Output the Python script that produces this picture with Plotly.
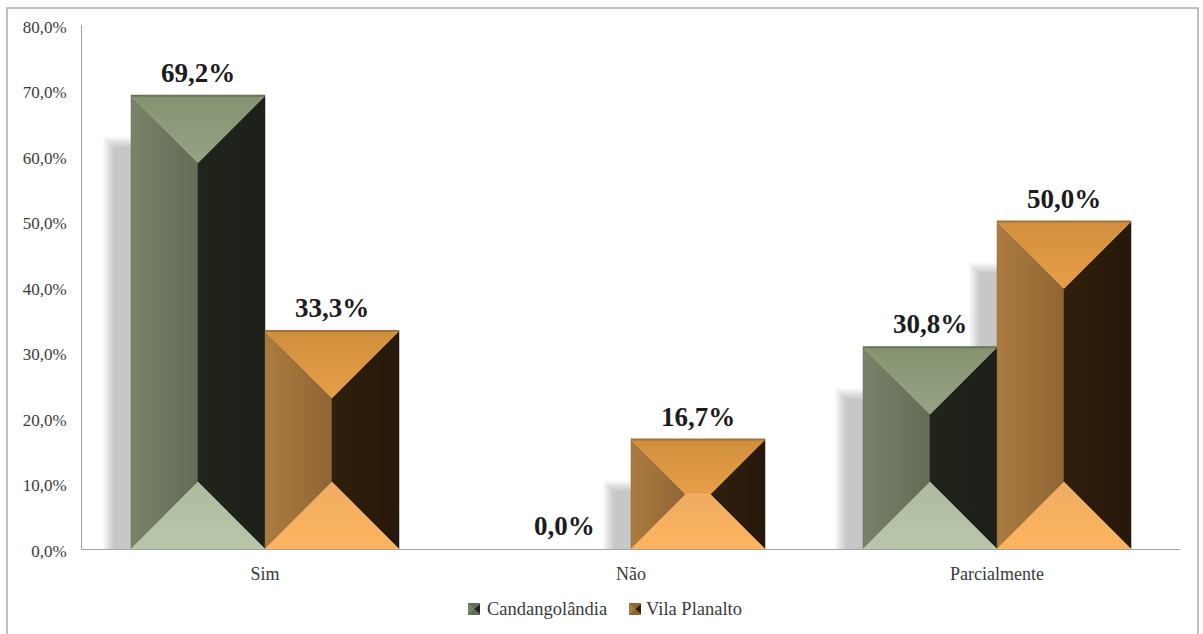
import plotly.graph_objects as go

# Chart data
categories = ["Sim", "Não", "Parcialmente"]
series_names = ["Candangolândia", "Vila Planalto"]
candangolandia = [69.2, 0.0, 30.8]
vila_planalto = [33.3, 16.7, 50.0]

# Pixel layout of the plot area
FIG_W, FIG_H = 1203, 634
M_L, M_R, M_T, M_B = 82, 23, 25, 85
PLOT_W = FIG_W - M_L - M_R
PLOT_H = FIG_H - M_T - M_B
X_PER_PX = 3.0 / PLOT_W
Y_PER_PX = 80.0 / PLOT_H
BAR_W = 134 * X_PER_PX
BEVEL_PX = 67

SERIF = "Liberation Serif"
TEXT_COLOR = "#3a3a3a"

palettes = {
    "Candangolândia": {
        "left": ["#7a8369", "#626c56"],
        "right": ["#20241b", "#1c2018"],
        "top": ["#869371", "#96a484"],
        "bottom": ["#adba9e", "#b9c6a9"],
        "edge": "#6a7358",
    },
    "Vila Planalto": {
        "left": ["#ab7c40", "#906534"],
        "right": ["#301f0c", "#26180a"],
        "top": ["#d08f3d", "#e89e47"],
        "bottom": ["#eeac62", "#fdb45f"],
        "edge": "#a27339",
    },
}


def face(xs, ys, colors, orient, start, stop):
    """One bevelled face of a bar, as a filled polygon with a linear gradient."""
    return go.Scatter(
        x=xs + xs[:1], y=ys + ys[:1], mode="lines", fill="toself",
        line=dict(width=0.5, color=colors[1]),
        fillgradient=dict(
            type=orient, start=start, stop=stop,
            colorscale=[[0, colors[0]], [1, colors[1]]],
        ),
        hoverinfo="skip", showlegend=False,
    )


def shadow_layers(left, value):
    """Soft grey shadow to the left of a bar, built from stacked translucent layers."""
    layers = []
    offset_x = 28 * X_PER_PX
    drop = 41 * Y_PER_PX
    steps = 10
    for k in range(steps):
        x0 = left - offset_x + k * 1.2 * X_PER_PX
        top = max(value - drop - k * 1.2 * Y_PER_PX, 0)
        layers.append(go.Scatter(
            x=[x0, left, left, x0, x0], y=[0, 0, top, top, 0],
            mode="lines", fill="toself", line=dict(width=0),
            fillcolor="rgba(40,40,40,0.026)",
            hoverinfo="skip", showlegend=False,
        ))
    return layers


def bar_faces(left, value, pal):
    """The four faces and the top edge of one bevelled bar."""
    right = left + BAR_W
    mid_by = min(BEVEL_PX * Y_PER_PX, value / 2)
    bx = mid_by / Y_PER_PX * X_PER_PX
    ax0, ax1 = left + bx, right - bx
    ay0, ay1 = mid_by, value - mid_by
    faces = [
        face([left, ax0, ax0, left], [0, ay0, ay1, value],
             pal["left"], "horizontal", left, ax0),
        face([right, ax1, ax1, right], [0, ay0, ay1, value],
             pal["right"], "horizontal", ax1, right),
        face([left, right, ax1, ax0], [value, value, ay1, ay1],
             pal["top"], "vertical", value, ay1),
        face([left, right, ax1, ax0], [0, 0, ay0, ay0],
             pal["bottom"], "vertical", ay0, 0),
    ]
    faces.append(go.Scatter(
        x=[left, right], y=[value, value], mode="lines",
        line=dict(width=2, color=pal["edge"]),
        hoverinfo="skip", showlegend=False,
    ))
    return faces


def pct(v):
    return f"{v:.1f}".replace(".", ",") + "%"


fig = go.Figure()

series = [candangolandia, vila_planalto]
lefts = [lambda i: i - BAR_W, lambda i: i]

# Shadows go first so that every bar sits on top of them
for name, values, left_of in zip(series_names, series, lefts):
    for i, v in enumerate(values):
        if v > 0:
            for tr in shadow_layers(left_of(i), v):
                fig.add_trace(tr)

for name, values, left_of in zip(series_names, series, lefts):
    for i, v in enumerate(values):
        if v > 0:
            for tr in bar_faces(left_of(i), v, palettes[name]):
                fig.add_trace(tr)


def px_x(p):
    return (p - M_L) / PLOT_W


def px_y(p):
    return 1 - (p - M_T) / PLOT_H


def poly(points, color):
    path = "M " + " L ".join(f"{px_x(x):.5f},{px_y(y):.5f}" for x, y in points) + " Z"
    return dict(type="path", xref="paper", yref="paper", path=path,
                fillcolor=color, line=dict(width=0))


shapes = [
    # Outer chart frame
    dict(type="rect", xref="paper", yref="paper", layer="below",
         x0=px_x(7), x1=px_x(1198), y0=px_y(640), y1=px_y(8),
         line=dict(color="#ababab", width=1.5), fillcolor="white"),
]
annotations = []

# Value labels above each bar
for values, left_of in zip(series, lefts):
    for i, v in enumerate(values):
        annotations.append(dict(
            text=pct(v), x=left_of(i) + BAR_W / 2, y=v, xref="x", yref="y",
            xanchor="center", yanchor="bottom", yshift=6, showarrow=False,
            font=dict(family=SERIF, size=27, color="#1c1c1c", weight="bold"),
        ))

# Legend: small bevelled keys followed by their names
legend_items = [(468, 485), (629, 644)]
for name, (kx, tx) in zip(series_names, legend_items):
    pal = palettes[name]
    ky, s = 603, 12
    shapes += [
        poly([(kx, ky), (kx + s, ky), (kx + s, ky + s), (kx, ky + s)], pal["left"][0]),
        poly([(kx + s, ky + 1), (kx + s, ky + s - 1), (kx + s / 2, ky + s / 2)], pal["right"][0]),
        poly([(kx, ky), (kx + s, ky), (kx + s / 2, ky + s / 2)], pal["left"][1]),
        poly([(kx, ky + s), (kx + s, ky + s), (kx + s / 2, ky + s / 2)], pal["left"][1]),
    ]
    annotations.append(dict(
        text=name, xref="paper", yref="paper", x=px_x(tx), y=px_y(609),
        xanchor="left", yanchor="middle", showarrow=False,
        font=dict(family=SERIF, size=18.5, color=TEXT_COLOR),
    ))

fig.update_layout(
    width=FIG_W, height=FIG_H,
    margin=dict(l=M_L, r=M_R, t=M_T, b=M_B, autoexpand=False),
    paper_bgcolor="white", plot_bgcolor="rgba(0,0,0,0)",
    separators=",.",
    showlegend=False,
    shapes=shapes, annotations=annotations,
    xaxis=dict(
        range=[-0.5, 2.5], tickmode="array", tickvals=[0, 1, 2], ticktext=categories,
        showgrid=False, zeroline=False, showline=True, linecolor="#a3a3a3", linewidth=1,
        ticks="outside", ticklen=8, tickcolor="rgba(0,0,0,0)",
        tickfont=dict(family=SERIF, size=18, color=TEXT_COLOR),
    ),
    yaxis=dict(
        range=[0, 80], dtick=10, tickformat=".1f", ticksuffix="%",
        showgrid=False, zeroline=False, showline=True, linecolor="#a3a3a3", linewidth=1,
        ticks="outside", ticklen=11, tickcolor="rgba(0,0,0,0)", ticklabelshift=2,
        tickfont=dict(family=SERIF, size=17, color=TEXT_COLOR),
    ),
)

fig.write_html("out.html", config=dict(displayModeBar=False))
